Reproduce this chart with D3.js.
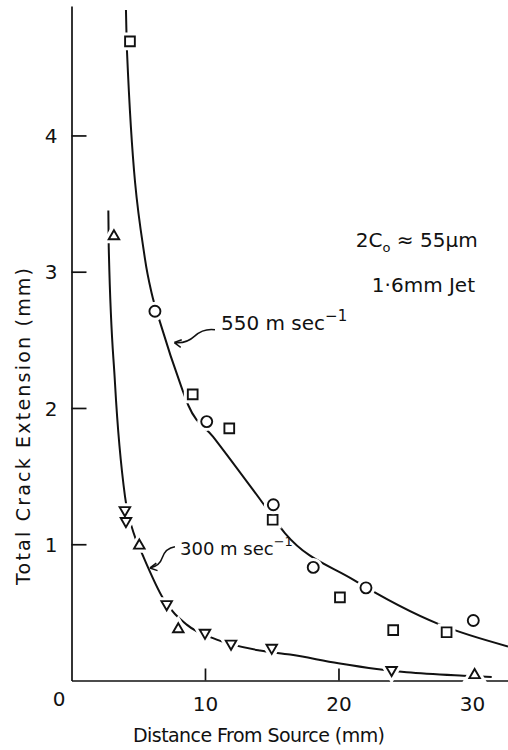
<!DOCTYPE html>
<html>
<head>
<meta charset="utf-8">
<script src="https://cdn.jsdelivr.net/npm/d3@7"></script>
<style>
  body { margin: 0; background: #fff; }
  text { font-family: "DejaVu Sans", "Liberation Sans", sans-serif; fill: #111; }
</style>
</head>
<body>
<svg id="chart"></svg>
<script>
// values (distance mm, crack extension mm)
const sq550X = [4.38, 9.08, 11.82, 15.07, 20.11, 24.1, 28.1];
const sq550Y = [4.69, 2.10, 1.85, 1.18, 0.61, 0.37, 0.354];
const ci550X = [6.25, 10.13, 15.12, 18.11, 22.06, 30.1];
const ci550Y = [2.71, 1.90, 1.29, 0.83, 0.68, 0.44];
const up300X = [3.18, 5.08, 8.0, 30.2];
const up300Y = [3.26, 0.99, 0.376, 0.04];
const dn300X = [4.0, 4.08, 7.13, 10.0, 11.95, 15.0, 23.98];
const dn300Y = [1.25, 1.17, 0.56, 0.35, 0.27, 0.24, 0.077];

// fitted curves as drawn
const fit550X = [4.08, 4.16, 5.51, 6.01, 6.63, 8.25, 8.75, 10.6, 14.12, 16.0, 21.1, 27.6, 32.7];
const fit550Y = [4.92, 4.61, 3.09, 2.84, 2.63, 2.15, 2.02, 1.79, 1.33, 1.08, 0.74, 0.41, 0.25];
const fit300X = [2.76, 2.79, 3.26, 4.01, 4.63, 5.38, 6.88, 8.63, 10.88, 14.12, 16.37, 19.99, 22.86, 25.11, 29.35, 31.48];
const fit300Y = [3.45, 3.18, 2.18, 1.35, 1.09, 0.91, 0.60, 0.41, 0.30, 0.22, 0.19, 0.126, 0.084, 0.060, 0.035, 0.026];

const xTicks = [10, 20, 30];
const yTicks = [1, 2, 3, 4];

const width = 508, height = 750;
const svg = d3.select("#chart").attr("width", width).attr("height", height);

const x = d3.scaleLinear().domain([0, 32.7]).range([71.5, 508]);
const y = d3.scaleLinear().domain([0, 4.95]).range([680.5, 6]);

const zip = (xs, ys) => xs.map((v, i) => [v, ys[i]]);

// axes, ticks pointing inwards
const yAxis = svg.append("g")
    .attr("transform", `translate(${x(0)},0)`)
    .call(d3.axisLeft(y).tickValues(yTicks).tickFormat(d3.format("d"))
        .tickSizeInner(-15).tickSizeOuter(0).tickPadding(14));
const xAxis = svg.append("g")
    .attr("transform", `translate(0,${y(0)})`)
    .call(d3.axisBottom(x).tickValues(xTicks).tickSizeInner(-12).tickSizeOuter(0).tickPadding(16));

[yAxis, xAxis].forEach(g => {
    g.selectAll("path, line").attr("stroke", "#111").attr("stroke-width", 1.7);
    g.selectAll("text").style("font-size", "20px").attr("fill", "#111")
        .style("font-family", "DejaVu Sans");
});
yAxis.selectAll("text").attr("dy", "0.36em");

svg.append("text")
    .attr("x", 59).attr("y", 706)
    .attr("text-anchor", "middle")
    .style("font-size", "20px")
    .text("0");

// axis titles
svg.append("text")
    .attr("x", 133).attr("y", 742)
    .attr("textLength", 252)
    .style("font-size", "19px")
    .text("Distance From Source (mm)");

svg.append("text")
    .attr("transform", "translate(30,585) rotate(-90)")
    .attr("textLength", 317)
    .style("font-size", "19px")
    .text("Total Crack Extension  (mm)");

// curves
const line = d3.line().x(d => x(d[0])).y(d => y(d[1])).curve(d3.curveMonotoneX);
[zip(fit550X, fit550Y), zip(fit300X, fit300Y)].forEach(pts => {
    svg.append("path")
        .datum(pts)
        .attr("d", line)
        .attr("fill", "none")
        .attr("stroke", "#111")
        .attr("stroke-width", 2);
});

// markers (white halo breaks the curve around each one)
const groups = [
    {pts: zip(sq550X, sq550Y), type: d3.symbolSquare, size: 95, rot: 0},
    {pts: zip(ci550X, ci550Y), type: d3.symbolCircle, size: 95, rot: 0},
    {pts: zip(up300X, up300Y), type: d3.symbolTriangle, size: 48, rot: 0},
    {pts: zip(dn300X, dn300Y), type: d3.symbolTriangle, size: 48, rot: 180}
];
groups.forEach(g => {
    const sym = d3.symbol().type(g.type).size(g.size);
    [["#fff", 8], ["#111", 1.9]].forEach(([col, sw]) => {
        svg.append("g").selectAll("path")
            .data(g.pts)
            .enter().append("path")
            .attr("d", sym)
            .attr("transform", d => `translate(${x(d[0])},${y(d[1])}) rotate(${g.rot})`)
            .attr("fill", col === "#fff" ? "#fff" : "none")
            .attr("stroke", col)
            .attr("stroke-width", sw);
    });
});

// wavy annotation arrows
function wavyArrow(x0, y0, x1, y1) {
    const dx = x1 - x0, dy = y1 - y0, len = Math.hypot(dx, dy);
    const nx = -dy / len, ny = dx / len;
    const p = d3.path();
    p.moveTo(x0, y0);
    p.quadraticCurveTo(x0 + dx * 0.25 + nx * 5, y0 + dy * 0.25 + ny * 5, x0 + dx / 2, y0 + dy / 2);
    const cx = x0 + dx * 0.75 - nx * 5, cy = y0 + dy * 0.75 - ny * 5;
    p.quadraticCurveTo(cx, cy, x1, y1);
    const a = Math.atan2(y1 - cy, x1 - cx);
    [0.5, -0.5].forEach(o => {
        p.moveTo(x1, y1);
        p.lineTo(x1 - 8 * Math.cos(a + o), y1 - 8 * Math.sin(a + o));
    });
    svg.append("path").attr("d", p.toString())
        .attr("fill", "none").attr("stroke", "#111").attr("stroke-width", 1.5);
}
wavyArrow(x(10.75), y(2.574), x(7.70), y(2.48));
wavyArrow(x(7.75), y(0.982), x(5.88), y(0.826));

function speedLabel(v, xv, yv, fs) {
    const t = svg.append("text").attr("x", x(xv)).attr("y", y(yv)).style("font-size", fs + "px");
    t.append("tspan").text(v + " m sec");
    t.append("tspan").attr("dy", -9).style("font-size", (fs - 5) + "px").text("\u22121");
}
speedLabel("550", 11.2, 2.57, 20);
speedLabel("300", 8.13, 0.92, 18);

const note = svg.append("text").attr("x", x(21.3)).attr("y", y(3.18)).style("font-size", "20px");
note.append("tspan").text("2C");
note.append("tspan").attr("dy", 5).style("font-size", "13px").text("o");
note.append("tspan").attr("dy", -5).text(" \u2248 55\u03bcm");

svg.append("text").attr("x", x(22.5)).attr("y", y(2.85))
    .style("font-size", "20px")
    .text("1\u00b76mm  Jet");
</script>
</body>
</html>
